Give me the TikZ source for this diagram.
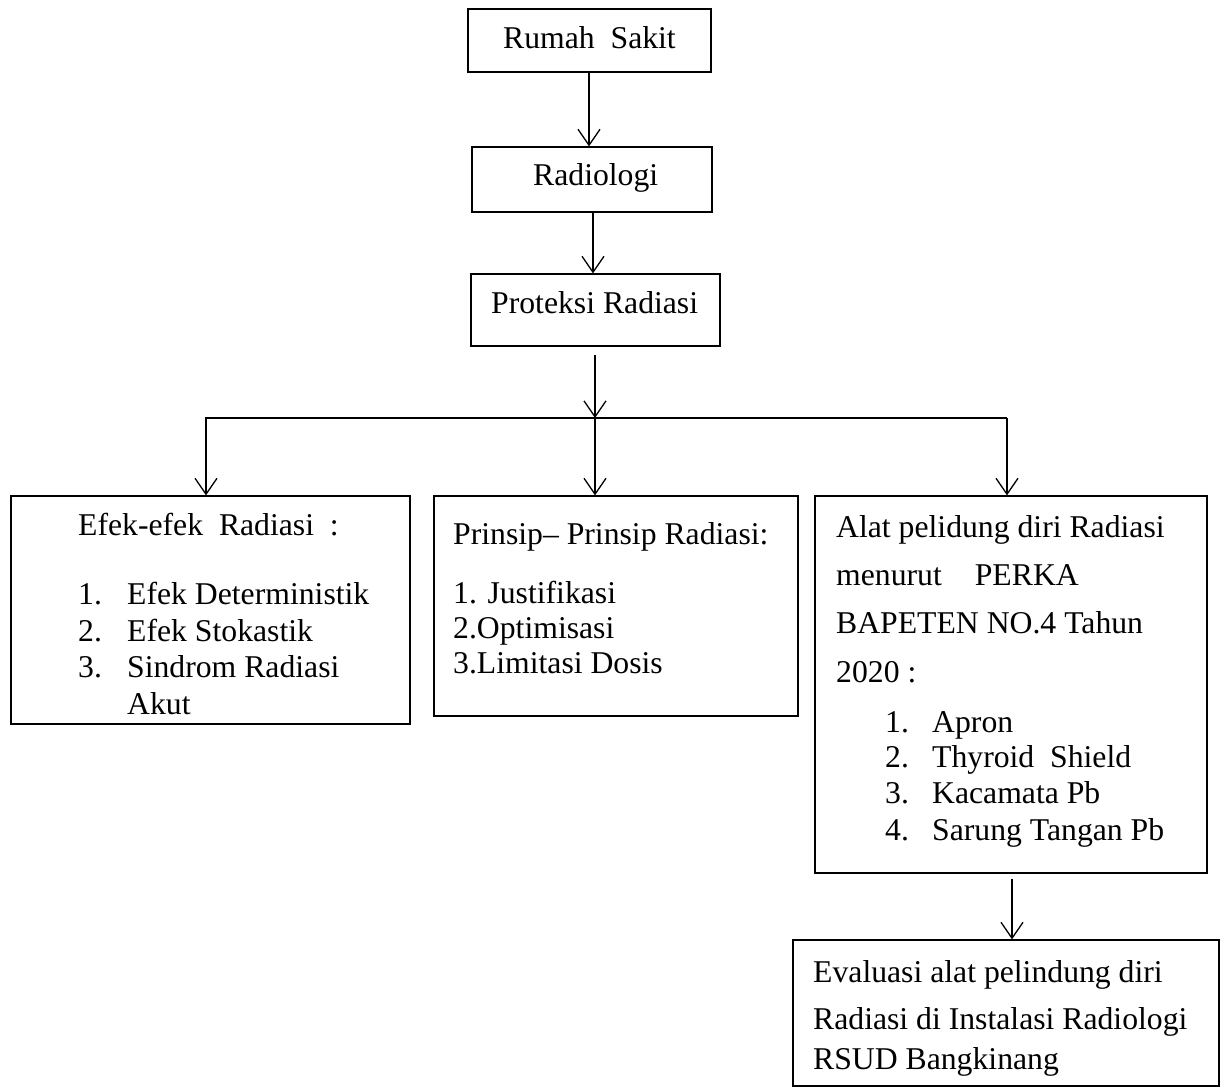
\documentclass[tikz,border=0pt]{standalone}
\usepackage{fontspec}
\setmainfont{Liberation Serif}
\usetikzlibrary{arrows.meta}
\begin{document}
\begin{tikzpicture}[x=1pt,y=-1pt,
  box/.style={draw,line width=1.2pt,rectangle,inner sep=0pt},
  txt/.style={anchor=base west,inner sep=0pt,font=\fontsize{31.7}{38}\selectfont},
  arr/.style={line width=1.3pt,-{Straight Barb[length=16pt,width=22pt,line width=1.3pt]}},
  hline/.style={line width=2pt}]
\useasboundingbox (0,0) rectangle (1227,1088);
% boxes
\node[box,minimum width=243pt,minimum height=63pt] (rs) at (589.5,40.5) {};
\node[box,minimum width=240pt,minimum height=65pt] (rad) at (592,179.5) {};
\node[box,minimum width=249pt,minimum height=72pt] (prot) at (595.5,310) {};
\node[box,minimum width=399pt,minimum height=228pt] (efek) at (210.5,610) {};
\node[box,minimum width=364pt,minimum height=220pt] (prin) at (616,606) {};
\node[box,minimum width=392pt,minimum height=377pt] (alat) at (1011,684.5) {};
\node[box,minimum width=426pt,minimum height=146pt] (eval) at (1006,1013) {};
% texts
\node[txt] (t1) at (503,48) {Rumah\ \ Sakit};
\node[txt] (t2) at (533,185) {Radiologi};
\node[txt] (t3) at (491,313) {Proteksi Radiasi};
\node[txt] (e0) at (78,535) {Efek-efek\ \ Radiasi\ \ :};
\node[txt] (e1n) at (78,604) {1.};
\node[txt] (e1) at (127,604) {Efek Deterministik};
\node[txt] (e2n) at (78,641) {2.};
\node[txt] (e2) at (127,641) {Efek Stokastik};
\node[txt] (e3n) at (78,677) {3.};
\node[txt] (e3) at (127,677) {Sindrom Radiasi};
\node[txt] (e4) at (127,714) {Akut};
\node[txt] (p0) at (453,544) {Prinsip– Prinsip Radiasi:};
\node[txt] (p1) at (453,603) {1. Justifikasi};
\node[txt] (p2) at (453,638) {2.Optimisasi};
\node[txt] (p3) at (453,673) {3.Limitasi Dosis};
\node[txt] (a0) at (836,537) {Alat pelidung diri Radiasi};
\node[txt] (a1) at (836,585) {menurut\hspace{33pt}PERKA};
\node[txt] (a2) at (836,633) {BAPETEN NO.4 Tahun};
\node[txt] (a3) at (836,682) {2020 :};
\node[txt] (l1n) at (885,732) {1.};
\node[txt] (l1) at (932,732) {Apron};
\node[txt] (l2n) at (885,767) {2.};
\node[txt] (l2) at (932,767) {Thyroid\ \ Shield};
\node[txt] (l3n) at (885,803) {3.};
\node[txt] (l3) at (932,803) {Kacamata Pb};
\node[txt] (l4n) at (885,840) {4.};
\node[txt] (l4) at (932,840) {Sarung Tangan Pb};
\node[txt] (v1) at (813,982) {Evaluasi alat pelindung diri};
\node[txt] (v2) at (813,1029) {Radiasi di Instalasi Radiologi};
\node[txt] (v3) at (813,1069) {RSUD Bangkinang};
% connectors
\coordinate (j) at (595,418);
\coordinate (hl) at (205,418);
\coordinate (hr) at (1007,418);
\coordinate (dl) at (206,418);
\draw[arr] (rs.south -| 589,0) -- (rad.north -| 589,0);
\draw[arr] (rad.south -| 593,0) -- (prot.north -| 593,0);
\draw[arr,shorten <=8pt] (prot.south -| j) -- (j);
\draw[hline] (hl) -- (hr);
\draw[arr] (dl) -- (dl |- efek.north);
\draw[arr] (j) -- (j |- prin.north);
\draw[arr] (hr) -- (hr |- alat.north);
\draw[arr,shorten <=5pt] (alat.south -| 1012,0) -- (eval.north -| 1012,0);
\end{tikzpicture}
\end{document}
